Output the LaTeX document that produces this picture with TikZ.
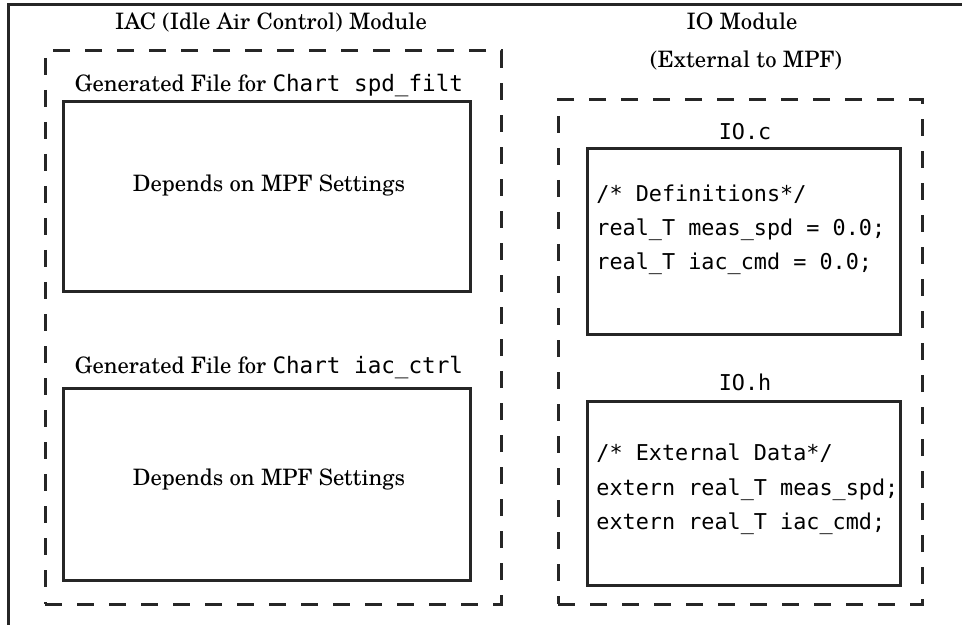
\documentclass[tikz,border=0pt]{standalone}
\usepackage{fontspec}
\setmainfont{TeX Gyre Schola}
\setmonofont{DejaVu Sans Mono}
\usetikzlibrary{fit}
\begin{document}
\begin{tikzpicture}[x=0.5pt,y=-0.5pt,
  frame/.style={line width=1.5pt, draw=black!85},
  solidbox/.style={draw=black!85, line width=1.5pt, inner sep=0pt},
  dashbox/.style={draw=black!85, line width=1.5pt, inner sep=0pt, dash pattern=on 8.5pt off 7.5pt},
  serif/.style={font=\fontsize{11.3}{14}\selectfont, inner sep=0pt, anchor=base},
  code/.style={font=\fontsize{10.9}{13}\selectfont\ttfamily, inner sep=0pt, anchor=base west},
]
\useasboundingbox (0,0) rectangle (962,625);
\coordinate (ftr) at (962,5);
\coordinate (ftl) at (8,5);
\coordinate (fbl) at (8,625);
\draw[frame] (ftr) -- (ftl) -- (fbl);

% dashed module boxes
\node[dashbox, fit={(45,51)(501,604)}] (iac) {};
\node[dashbox, fit={(558,100)(922,604)}] (io) {};

% left inner boxes
\node[solidbox, fit={(63,102)(470,292)}] (spd) {};
\node[solidbox, fit={(63,388)(470,580)}] (ctrl) {};

% right inner boxes
\node[solidbox, fit={(587,149)(900,334)}] (ioc) {};
\node[solidbox, fit={(587,401)(900,585)}] (ioh) {};

% titles
\node[serif] (tiac) at (271,30) {IAC (Idle Air Control) Module};
\node[serif] (tio) at (742,30) {IO Module};
\node[serif] (tio2) at (746,68) {(External to MPF)};

\node[serif] (tspd) at (269,92) {Generated File for \texttt{Chart spd\_filt}};
\node[serif] (dspd) at (269,192) {Depends on MPF Settings};
\node[serif] (tctrl) at (269,373) {Generated File for \texttt{Chart iac\_ctrl}};
\node[serif] (dctrl) at (269,485) {Depends on MPF Settings};

\node[code, anchor=base] (tioc) at (745,140) {IO.c};
\node[code] (c1) at (596,202) {/* Definitions*/};
\node[code] (c2) at (596,236) {real\_T meas\_spd = 0.0;};
\node[code] (c3) at (596,270) {real\_T iac\_cmd = 0.0;};

\node[code, anchor=base] (tioh) at (745,390) {IO.h};
\node[code] (h1) at (596,460) {/* External Data*/};
\node[code] (h2) at (596,495) {extern real\_T meas\_spd;};
\node[code] (h3) at (596,529) {extern real\_T iac\_cmd;};
\end{tikzpicture}
\end{document}
